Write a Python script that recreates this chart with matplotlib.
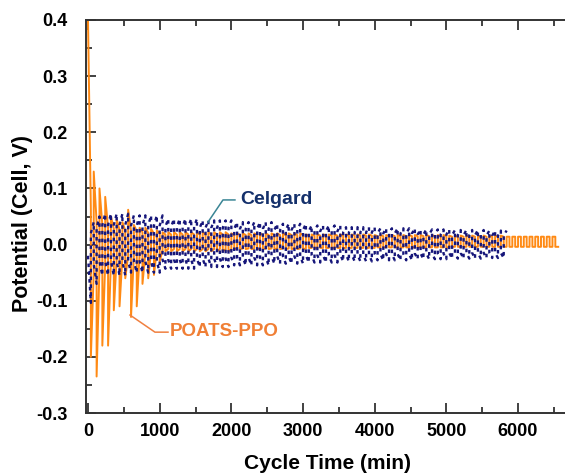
import numpy as np
import matplotlib
matplotlib.use('Agg')
import matplotlib.pyplot as plt
from matplotlib.ticker import MultipleLocator, FormatStrFormatter

plt.rcParams['font.family'] = ['Liberation Sans', 'DejaVu Sans']
plt.rcParams['font.weight'] = 'bold'
plt.rcParams['axes.unicode_minus'] = False

# cycling period (min): one charge + one discharge half
period = 80

# Celgard: block start times and the level at start / end of each half cycle
cg_t = [0, 80, 160, 500, 1000, 1500, 2000, 2500, 3000, 3500, 4000, 4500, 5000, 5500]
cg_hi_start = [0.020, 0.030, 0.035, 0.034, 0.032, 0.030, 0.028, 0.026, 0.024, 0.022, 0.020, 0.018, 0.017, 0.016]
cg_hi_end = [0.040, 0.050, 0.055, 0.052, 0.046, 0.043, 0.040, 0.037, 0.034, 0.031, 0.029, 0.027, 0.026, 0.025]
cg_lo_start = [-0.020, -0.035, -0.030, -0.030, -0.027, -0.025, -0.023, -0.021, -0.019, -0.018, -0.017, -0.016, -0.015, -0.015]
cg_lo_end = [-0.104, -0.070, -0.055, -0.050, -0.043, -0.040, -0.037, -0.034, -0.032, -0.030, -0.028, -0.026, -0.025, -0.024]
cg_end = 5840

# POATS-PPO: block start times, spike (start) and plateau (end) of each half cycle
po_t = [0, 80, 160, 240, 320, 400, 480, 560, 640, 720, 800, 880, 960, 1040, 2000, 3000, 4000, 5000, 5800]
po_hi_peak = [0.40, 0.13, 0.10, 0.085, 0.05, 0.045, 0.04, 0.062, 0.035, 0.03, 0.03, 0.028, 0.025, 0.022, 0.020, 0.018, 0.017, 0.016, 0.014]
po_hi_end = [0.06, 0.04, 0.035, 0.03, 0.028, 0.026, 0.025, 0.025, 0.024, 0.022, 0.021, 0.020, 0.020, 0.018, 0.017, 0.016, 0.015, 0.014, 0.014]
po_lo_peak = [-0.20, -0.235, -0.18, -0.18, -0.117, -0.11, -0.06, -0.129, -0.11, -0.07, -0.06, -0.054, -0.03, -0.012, -0.008, -0.006, -0.005, -0.004, -0.004]
po_lo_end = [-0.05, -0.04, -0.035, -0.03, -0.025, -0.022, -0.02, -0.02, -0.018, -0.015, -0.012, -0.010, -0.010, -0.008, -0.007, -0.006, -0.005, -0.004, -0.004]
po_end = 6500


def wave(blocks, hi_a, hi_b, lo_a, lo_b, t_end, lo_first=False):
    t, v = [], []
    h = period / 2
    t0 = 0
    while t0 < t_end:
        i = np.searchsorted(blocks, t0, side='right') - 1
        halves = [(hi_a[i], hi_b[i]), (lo_a[i], lo_b[i])]
        if lo_first:
            halves = halves[::-1]
        for k, (a, b) in enumerate(halves):
            t += [t0 + k * h, t0 + (k + 1) * h]
            v += [a, b]
        t0 += period
    return np.array(t), np.array(v)


po_x, po_y = wave(po_t, po_hi_peak, po_hi_end, po_lo_peak, po_lo_end, po_end)
cg_x, cg_y = wave(cg_t, cg_hi_start, cg_hi_end, cg_lo_start, cg_lo_end, cg_end, lo_first=True)

fig = plt.figure(figsize=(5.65, 4.74), dpi=100)
ax = fig.add_axes([86 / 565, 1 - 413 / 474, 479 / 565, 393 / 474])

ax.plot(po_x, po_y, color='#FF8A14', lw=1.4, zorder=2)
ax.plot(cg_x, cg_y, color='#16167A', lw=1.7, linestyle=(0, (1.5, 1.8)), zorder=3)

# callouts
ax.plot([1674, 1883, 2050], [0.040, 0.0795, 0.0795], color='#3A8595', lw=1.1, zorder=4)
ax.text(2120, 0.0795, 'Celgard', color='#14306B', fontsize=14, fontweight='bold', va='center')
ax.plot([586, 934, 1116], [-0.1255, -0.156, -0.156], color='#F08040', lw=1.1, zorder=4)
ax.text(1140, -0.155, 'POATS-PPO', color='#F07F35', fontsize=13.5, fontweight='bold', va='center')

ax.set_xlim(-28, 6655)
ax.set_ylim(-0.3, 0.4)
ax.xaxis.set_major_locator(MultipleLocator(1000))
ax.xaxis.set_minor_locator(MultipleLocator(500))
ax.yaxis.set_major_locator(MultipleLocator(0.1))
ax.yaxis.set_minor_locator(MultipleLocator(0.05))
ax.yaxis.set_major_formatter(FormatStrFormatter('%.1f'))

ax.tick_params(which='both', direction='in', top=True, right=False, width=1.3, color='#333333')
ax.tick_params(which='major', length=7)
ax.tick_params(which='minor', length=4)
ax.tick_params(axis='x', labelsize=13, pad=7)
ax.tick_params(axis='y', labelsize=13, pad=13)
for lab in ax.get_xticklabels() + ax.get_yticklabels():
    lab.set_fontweight('bold')
ax.spines['right'].set_visible(False)
for s in ['left', 'top', 'bottom']:
    ax.spines[s].set_linewidth(1.4)
    ax.spines[s].set_color('#333333')

ax.set_xlabel('Cycle Time (min)', fontsize=15, fontweight='bold')
ax.set_ylabel('Potential (Cell, V)', fontsize=15.5, fontweight='bold')
ax.xaxis.set_label_coords(0.504, -0.105)
ax.yaxis.set_label_coords(-0.11, 0.483)

fig.savefig('out.png', dpi=100)
